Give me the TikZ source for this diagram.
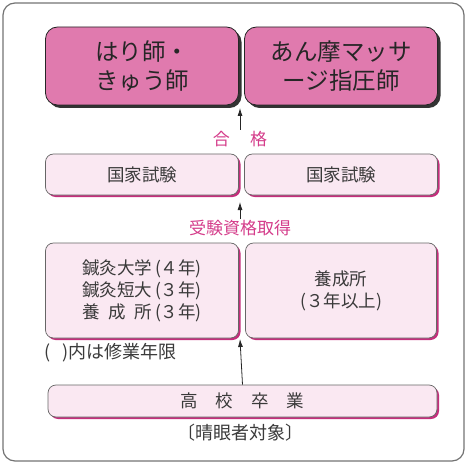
\documentclass[tikz,border=0pt]{standalone}
\usepackage{fontspec}
\newfontfamily\jp{Noto Sans CJK JP}
\usetikzlibrary{positioning,shadows,arrows.meta}
\definecolor{licpink}{HTML}{E07AAE}
\definecolor{palepink}{HTML}{FAE8F2}
\definecolor{rosered}{HTML}{D43C8A}
\definecolor{rimred}{HTML}{C42E7C}
\definecolor{inkgray}{HTML}{3A3A3A}

\begin{document}
\begin{tikzpicture}[x=1pt, y=-1pt, font=\jp,
    licbox/.style={draw=black!85, line width=0.8pt, fill=licpink, rounded corners=12pt,
        minimum width=193pt, minimum height=78pt, inner sep=0pt, align=center, text=black!85,
        font=\jp\fontsize{23.5}{29}\selectfont,
        general shadow={fill=black!80, shadow xshift=3pt, shadow yshift=-3pt}},
    palebox/.style={draw=black!60, line width=0.7pt, fill=palepink, rounded corners=8pt,
        inner sep=0pt, text=inkgray, font=\jp\fontsize{17.5}{22}\selectfont,
        general shadow={fill=rimred, shadow xshift=2pt, shadow yshift=-2pt}},
    steplabel/.style={text=rosered, inner sep=1pt, font=\jp\fontsize{17}{20}\selectfont},
    note/.style={text=inkgray, inner sep=0pt, font=\jp\fontsize{18}{20}\selectfont},
    arr/.style={-{Latex[length=8pt,width=5pt]}, line width=0.8pt, black!85}]
    \useasboundingbox (0,0) rectangle (468,465);

    % frame
    \draw[black!55, line width=1.2pt, rounded corners=12pt] (3,3) rectangle (464,461);

    % licences
    \node[licbox] (hari) at (142,66) {はり師・\\きゅう師};
    \node[licbox] (anma) at (341,66) {あん摩マッサ\\ージ指圧師};
    \node[steplabel] (pass) at (240,139) {合\hspace{1.2em}格};
    \coordinate (passtip) at (240,108);
    \draw[arr] (pass.north) -- (passtip);

    % national exams
    \foreach \name/\x in {examL/142, examR/341} {
        \node[palebox, minimum width=193pt, minimum height=41pt] (\name) at (\x,174.5) {国家試験};
    }
    \node[steplabel] (qual) at (240,228) {受験資格取得};
    \coordinate (qualtip) at (240,202);
    \draw[arr] (qual.north) -- (qualtip);

    % schools
    \node[palebox, minimum width=193pt, minimum height=95pt, align=left] (schoolL) at (142,290.5)
        {鍼灸大学\,(４年)\\鍼灸短大\,(３年)\\\makebox[4em][s]{養\hfill 成\hfill 所}\,(３年)};
    \node[palebox, minimum width=191pt, minimum height=95pt, align=center] (schoolR) at (341,290.5)
        {養成所\\(３年以上)};
    \node[note, anchor=west] (years) at (44,353) {(\enspace\,)内は修業年限};

    % high school
    \node[palebox, minimum width=389pt, minimum height=32pt] (high) at (242.5,401)
        {\makebox[124pt][s]{高\hfill 校\hfill 卒\hfill 業}};
    \node[note] (sighted) at (240,433)
        {\makebox[0.5em][r]{〔}晴眼者対象\makebox[0.5em][l]{〕}};
    \coordinate (hightip) at (240,339);
    \draw[arr] (high.north) -- (hightip);
\end{tikzpicture}
\end{document}
